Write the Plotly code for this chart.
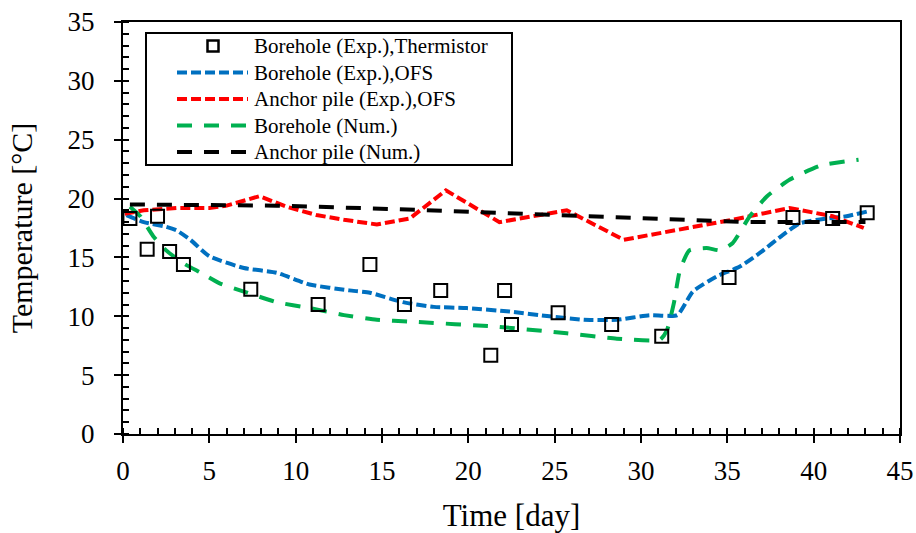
import plotly.graph_objects as go

# ---- data ----
therm_day = [0.4, 1.4, 2.0, 2.7, 3.5, 7.4, 11.3, 14.3, 16.3, 18.4, 21.3, 22.1, 22.5, 25.2, 28.3, 31.2, 35.1, 38.8, 41.1, 43.1]
therm_temp = [18.3, 15.7, 18.5, 15.5, 14.4, 12.3, 11.0, 14.4, 11.0, 12.2, 6.7, 12.2, 9.3, 10.3, 9.3, 8.3, 13.3, 18.4, 18.3, 18.8]

bh_ofs_day = [0.2, 1.2, 2.5, 3.1, 3.9, 5.0, 7.0, 8.9, 10.8, 13.1, 14.3, 16.2, 18.0, 19.9, 22.4, 24.7, 26.7, 28.6, 30.5, 32.1, 33.0, 34.4, 35.7, 36.9, 38.2, 39.2, 40.7, 41.9, 43.1]
bh_ofs_temp = [18.6, 18.0, 17.6, 17.3, 16.5, 15.1, 14.1, 13.7, 12.7, 12.2, 12.0, 11.2, 10.8, 10.7, 10.4, 10.0, 9.7, 9.7, 10.1, 10.1, 12.1, 13.4, 14.2, 15.4, 16.9, 17.9, 18.3, 18.5, 18.9]

ap_ofs_day = [0.1, 1.2, 3.1, 5.0, 6.0, 7.9, 9.5, 11.2, 12.8, 14.7, 16.6, 18.7, 21.8, 25.7, 29.0, 35.3, 38.6, 41.1, 42.9]
ap_ofs_temp = [18.7, 19.0, 19.2, 19.2, 19.4, 20.2, 19.3, 18.6, 18.2, 17.8, 18.3, 20.7, 18.0, 19.0, 16.5, 18.2, 19.2, 18.5, 17.5]

bh_num_day = [0.4, 1.0, 1.75, 2.5, 3.5, 4.5, 5.6, 7.0, 8.9, 10.8, 12.8, 14.7, 16.6, 21.8, 25.7, 28.6, 31.1, 31.5, 31.9, 32.25, 32.8, 33.8, 34.6, 35.3, 36.3, 37.3, 38.6, 40.4, 42.6]
bh_num_temp = [19.3, 18.5, 16.8, 15.6, 14.5, 13.7, 12.8, 12.1, 11.2, 10.7, 10.1, 9.7, 9.55, 9.1, 8.55, 8.1, 8.0, 8.8, 11.1, 13.9, 15.6, 15.8, 15.6, 16.2, 18.5, 20.2, 21.6, 22.8, 23.3]

ap_num_day = [0.4, 8.9, 15.9, 25.7, 33.4, 36.3, 41.9, 43.0]
ap_num_temp = [19.5, 19.4, 19.1, 18.6, 18.2, 18.0, 18.0, 18.0]

x_ticks = [0, 5, 10, 15, 20, 25, 30, 35, 40, 45]
y_ticks = [0, 5, 10, 15, 20, 25, 30, 35]

series_names = ["Borehole (Exp.),Thermistor", "Borehole (Exp.),OFS", "Anchor pile (Exp.),OFS",
                "Borehole (Num.)", "Anchor pile (Num.)"]

FONT = "Liberation Serif"
BLUE, RED, GREEN, BLACK = "#0070C0", "#FF0000", "#00B050", "#000000"
SHORT_DASH = "10px,4px"
LONG_DASH = "15px,12px"

fig = go.Figure()
fig.add_trace(go.Scatter(x=bh_ofs_day, y=bh_ofs_temp, mode="lines", name=series_names[1],
                         line=dict(color=BLUE, width=4, dash=SHORT_DASH, shape="spline", smoothing=0.5)))
fig.add_trace(go.Scatter(x=ap_ofs_day, y=ap_ofs_temp, mode="lines", name=series_names[2],
                         line=dict(color=RED, width=4, dash=SHORT_DASH)))
fig.add_trace(go.Scatter(x=bh_num_day, y=bh_num_temp, mode="lines", name=series_names[3],
                         line=dict(color=GREEN, width=4, dash=LONG_DASH, shape="spline", smoothing=0.5)))
fig.add_trace(go.Scatter(x=ap_num_day, y=ap_num_temp, mode="lines", name=series_names[4],
                         line=dict(color=BLACK, width=4, dash=LONG_DASH)))
fig.add_trace(go.Scatter(x=therm_day, y=therm_temp, mode="markers", name=series_names[0],
                         marker=dict(symbol="square-open", size=13, color=BLACK, line=dict(width=2))))

axis_common = dict(showline=True, linecolor="black", linewidth=2, mirror=True,
                   ticks="outside", ticklen=7, tickwidth=2, tickcolor="black",
                   showgrid=False, zeroline=False, automargin=False,
                   tickfont=dict(family=FONT, size=27, color="black"))

fig.update_xaxes(range=[0, 45], tickvals=x_ticks, ticktext=[str(v) for v in x_ticks],
                 minor=dict(ticks="inside", dtick=1, ticklen=6, tickwidth=2, tickcolor="black"),
                 ticklabelstandoff=5,
                 title=dict(text="Time [day]", font=dict(family=FONT, size=31, color="black"), standoff=20),
                 **axis_common)
fig.update_yaxes(range=[0, 35], tickvals=y_ticks, ticktext=[str(v) for v in y_ticks],
                 minor=dict(ticks="inside", dtick=1, ticklen=6, tickwidth=2, tickcolor="black"),
                 ticklabelstandoff=14,
                 title=dict(text="Temperature [°C]", font=dict(family=FONT, size=30, color="black"), standoff=26),
                 **axis_common)

# ---- hand-drawn legend box (paper coords derived from pixel layout) ----
L, T, PW, PH = 123, 22, 777, 412
def px(xp):
    return (xp - L) / PW
def py(yp):
    return (T + PH - yp) / PH

shapes = [dict(type="rect", xref="paper", yref="paper", x0=px(146), x1=px(512), y0=py(165), y1=py(33),
               line=dict(color="black", width=2), fillcolor="white", layer="above")]
row_y = [46, 72.5, 99, 125.5, 152]
legend_styles = [None, (BLUE, SHORT_DASH), (RED, SHORT_DASH), (GREEN, LONG_DASH), (BLACK, LONG_DASH)]
annotations = []
for i, (name, sty) in enumerate(zip(series_names, legend_styles)):
    yy = row_y[i]
    if sty is None:
        shapes.append(dict(type="rect", xref="paper", yref="paper", x0=px(207.5), x1=px(218.5),
                           y0=py(yy + 5.5), y1=py(yy - 5.5), line=dict(color="black", width=2.5),
                           fillcolor="white", layer="above"))
    else:
        shapes.append(dict(type="line", xref="paper", yref="paper", x0=px(177), x1=px(248),
                           y0=py(yy), y1=py(yy), line=dict(color=sty[0], width=4, dash=sty[1]),
                           layer="above"))
    annotations.append(dict(text=name, xref="paper", yref="paper", x=px(252), y=py(yy),
                            xanchor="left", yanchor="middle", showarrow=False,
                            font=dict(family=FONT, size=21, color="black")))

fig.update_layout(
    width=916, height=533,
    margin=dict(l=123, r=16, t=22, b=99),
    paper_bgcolor="white", plot_bgcolor="white",
    showlegend=False,
    shapes=shapes, annotations=annotations,
)

fig.write_html("out.html")
